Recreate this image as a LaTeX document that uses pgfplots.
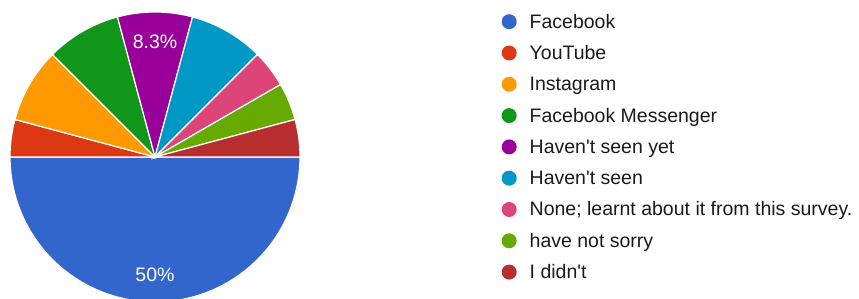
\documentclass[border=0pt]{standalone}
\usepackage{pgfplots}
\pgfplotsset{compat=1.18}
\usepackage{fontspec}
\setmainfont{Liberation Sans}
\definecolor{cFB}{HTML}{3366CC}
\definecolor{cYT}{HTML}{DC3912}
\definecolor{cIG}{HTML}{FF9900}
\definecolor{cFM}{HTML}{109618}
\definecolor{cHY}{HTML}{990099}
\definecolor{cHS}{HTML}{0099C6}
\definecolor{cNO}{HTML}{DD4477}
\definecolor{cHN}{HTML}{66AA00}
\definecolor{cID}{HTML}{B82E2E}
\definecolor{legtext}{HTML}{1A1A1A}
\pgfplotsset{pie legend/.style={legend image code/.code={\fill[##1, draw=none] (7.5bp,1.5bp) circle (7.5bp);}}}
% responses (24 in all): Facebook 12, YouTube 1, Instagram 2, Messenger 2,
% Haven't seen yet 2, Haven't seen 2, None 1, have not sorry 1, I didn't 1
% each response = 15 degrees; slices run clockwise from 3 o'clock
\newcommand{\pieslice}[4]{%
  \addplot[fill=#3, draw=white, line width=1.2bp, domain=#1:#2, samples=61, pie legend]
    ({cos(x)},{sin(x)}) -- (axis cs:0,0) -- cycle;
  \addlegendentry{#4}}
\begin{document}
\begin{tikzpicture}
\useasboundingbox (0,0) rectangle (859bp,299bp);
\begin{axis}[at={(10bp,-3bp)}, anchor=south west,
  width=290bp, height=290bp, scale only axis,
  xmin=-1, xmax=1, ymin=-1, ymax=1, hide axis, clip=false,
  legend cell align=left,
  legend style={at={(1.6845,1.0)}, anchor=north west, draw=none, fill=none,
    font=\fontsize{19.5bp}{23bp}\selectfont, text=legtext,
    row sep=13.3bp, column sep=13bp,
    nodes={inner sep=0pt, text height=14bp, text depth=4bp}}]
\pieslice{0}{-180}{cFB}{Facebook}
\pieslice{-180}{-195}{cYT}{YouTube}
\pieslice{-195}{-225}{cIG}{Instagram}
\pieslice{-225}{-255}{cFM}{Facebook Messenger}
\pieslice{-255}{-285}{cHY}{Haven\textquotesingle t seen yet}
\pieslice{-285}{-315}{cHS}{Haven\textquotesingle t seen}
\pieslice{-315}{-330}{cNO}{None; learnt about it from this survey.}
\pieslice{-330}{-345}{cHN}{have not sorry}
\pieslice{-345}{-360}{cID}{I didn\textquotesingle t}
\node[text=white, font=\fontsize{19.5bp}{23bp}\selectfont] at (axis cs:0,-0.81) {50\%};
\node[text=white, font=\fontsize{19.5bp}{23bp}\selectfont] at (axis cs:0,0.797) {8.3\%};
\end{axis}
\end{tikzpicture}
\end{document}
